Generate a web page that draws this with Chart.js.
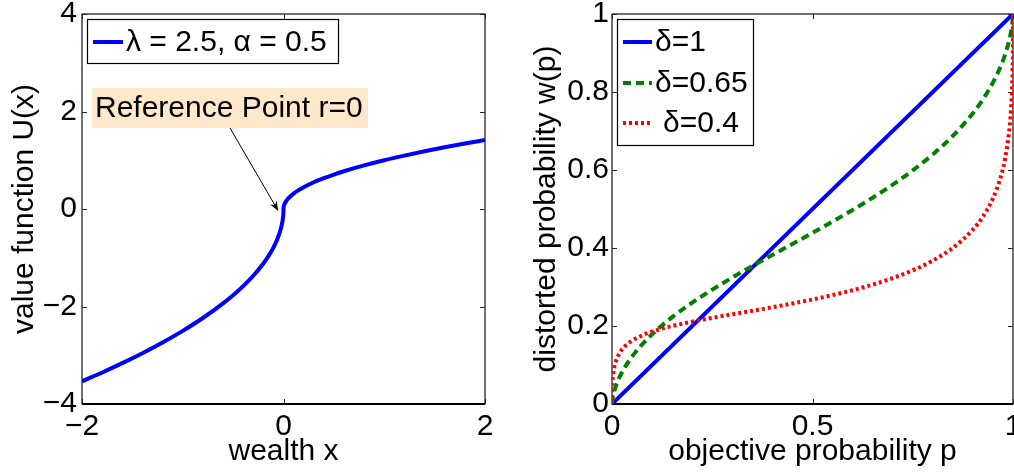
<!DOCTYPE html>
<html>
<head>
<meta charset="utf-8">
<script src="https://cdn.jsdelivr.net/npm/chart.js@4.4.0/dist/chart.umd.min.js"></script>
<style>
  html, body { margin: 0; padding: 0; background: #fff; }
  #wrap { position: relative; width: 1014px; height: 474px; overflow: hidden; }
  canvas { position: absolute; top: 0; }
  #valueChart { left: 0; }
  #weightChart { left: 507px; }
</style>
</head>
<body>
<div id="wrap">
  <canvas id="valueChart" width="507" height="474" style="width:507px;height:474px"></canvas>
  <canvas id="weightChart" width="507" height="474" style="width:507px;height:474px"></canvas>
</div>
<script>
// left panel: value function
const wealthX = [-2, -1.8, -1.6, -1.4, -1.2, -1, -0.8, -0.6, -0.5, -0.4, -0.3, -0.2, -0.15, -0.1, -0.05, -0.02, -0.01, -0.005, -0.001, 0,
                 0.001, 0.005, 0.01, 0.02, 0.05, 0.1, 0.15, 0.2, 0.3, 0.4, 0.5, 0.6, 0.8, 1, 1.2, 1.4, 1.6, 1.8, 2];
const valueU = [-3.536, -3.354, -3.162, -2.958, -2.739, -2.5, -2.236, -1.936, -1.768, -1.581, -1.369, -1.118, -0.968, -0.791, -0.559, -0.354, -0.25, -0.177, -0.079, 0,
                0.032, 0.071, 0.1, 0.141, 0.224, 0.316, 0.387, 0.447, 0.548, 0.632, 0.707, 0.775, 0.894, 1, 1.095, 1.183, 1.265, 1.342, 1.414];
const valueTicksX = [-2, 0, 2];
const valueTicksY = [-4, -2, 0, 2, 4];

// right panel: probability weighting curves
const probP = [0, 0.0001, 0.001, 0.005, 0.01, 0.02, 0.03, 0.05, 0.075, 0.1, 0.15, 0.2, 0.25, 0.3, 0.35, 0.4, 0.45, 0.5,
               0.55, 0.6, 0.65, 0.7, 0.75, 0.8, 0.85, 0.9, 0.925, 0.95, 0.97, 0.98, 0.99, 0.995, 0.999, 0.9999, 1];
const wDelta065 = [0, 0.0025, 0.011, 0.0306, 0.0469, 0.0713, 0.0906, 0.1215, 0.1526, 0.1787, 0.2226, 0.2599, 0.2933, 0.3242, 0.3537, 0.3822, 0.4104, 0.4388,
                   0.4676, 0.4975, 0.5289, 0.5624, 0.599, 0.64, 0.6875, 0.7455, 0.781, 0.8239, 0.8675, 0.895, 0.9304, 0.9543, 0.9833, 0.9961, 1];
const wDelta04 = [0, 0.0236, 0.0542, 0.0909, 0.1107, 0.1323, 0.1455, 0.1623, 0.1759, 0.1857, 0.2, 0.2111, 0.2209, 0.23, 0.2389, 0.2481, 0.2577, 0.268,
                  0.2792, 0.2918, 0.3061, 0.3227, 0.3427, 0.3676, 0.4003, 0.4471, 0.4805, 0.5271, 0.5842, 0.6274, 0.6955, 0.7549, 0.8586, 0.9399, 1];
const probP1 = [0, 1];
const wDelta1 = [0, 1];
const weightTicksX = [0, 0.5, 1];
const weightTicksY = [0, 0.2, 0.4, 0.6, 0.8, 1];

const FONT = "'Liberation Sans', Arial, Helvetica, sans-serif";
Chart.defaults.font.family = FONT;
Chart.defaults.font.size = 30;
Chart.defaults.color = '#000';

const pts = (xs, ys) => xs.map((x, i) => ({ x: x, y: ys[i] }));
const minus = v => (v < 0 ? '\u2212' + Math.abs(v) : String(v));
const round1 = v => String(Math.round(v * 10) / 10);

// box around the axes plus matlab style inward ticks on all four sides
const boxTicks = {
  id: 'boxTicks',
  beforeDatasetsDraw(chart) {
    const { ctx, chartArea: a, scales: { x, y } } = chart;
    ctx.save();
    ctx.strokeStyle = '#262626';
    ctx.lineWidth = 1;
    ctx.beginPath();
    x.ticks.forEach(t => {
      const px = Math.round(x.getPixelForValue(t.value)) + 0.5;
      ctx.moveTo(px, a.bottom); ctx.lineTo(px, a.bottom - 5);
      ctx.moveTo(px, a.top); ctx.lineTo(px, a.top + 5);
    });
    y.ticks.forEach(t => {
      const py = Math.round(y.getPixelForValue(t.value)) + 0.5;
      ctx.moveTo(a.left, py); ctx.lineTo(a.left + 5, py);
      ctx.moveTo(a.right, py); ctx.lineTo(a.right - 5, py);
    });
    ctx.stroke();
    ctx.lineWidth = 1.3;
    ctx.strokeRect(a.left, a.top, a.right - a.left, a.bottom - a.top);
    ctx.strokeStyle = '#000';
    ctx.lineWidth = 2;
    ctx.beginPath();
    ctx.moveTo(a.left, a.bottom); ctx.lineTo(a.right, a.bottom);
    ctx.stroke();
    ctx.restore();
  }
};

// legend box drawn inside the axes
const boxLegend = {
  id: 'boxLegend',
  afterDraw(chart, args, opts) {
    if (!opts || !opts.items) return;
    const ctx = chart.ctx;
    ctx.save();
    ctx.fillStyle = '#fff';
    ctx.fillRect(opts.x, opts.y, opts.w, opts.h);
    ctx.strokeStyle = '#000';
    ctx.lineWidth = 1.2;
    ctx.strokeRect(opts.x + 0.5, opts.y + 0.5, opts.w, opts.h);
    ctx.font = '30px ' + FONT;
    ctx.textBaseline = 'middle';
    ctx.textAlign = 'left';
    opts.items.forEach(it => {
      const ds = chart.data.datasets[it.dataset];
      ctx.strokeStyle = ds.borderColor;
      ctx.lineWidth = ds.borderWidth;
      ctx.setLineDash(ds.borderDash || []);
      ctx.beginPath();
      ctx.moveTo(opts.lineX0, it.y);
      ctx.lineTo(opts.lineX1, it.y);
      ctx.stroke();
      ctx.setLineDash([]);
      ctx.fillStyle = '#000';
      ctx.fillText(ds.label, it.textX, it.y + 1);
    });
    ctx.restore();
  }
};

// "Reference Point" note with arrow to the kink
const refNote = {
  id: 'refNote',
  afterDraw(chart, args, opts) {
    if (!opts || !opts.text) return;
    const { ctx, scales: { x, y } } = chart;
    ctx.save();
    ctx.fillStyle = '#fde8cc';
    ctx.fillRect(92, 88, 276, 40);
    ctx.fillStyle = '#000';
    ctx.font = '30px ' + FONT;
    ctx.textBaseline = 'middle';
    ctx.textAlign = 'left';
    ctx.fillText(opts.text, 95, 109);
    const x0 = 230, y0 = 128;
    const x1 = x.getPixelForValue(opts.tipX), y1 = y.getPixelForValue(opts.tipY);
    ctx.strokeStyle = '#000';
    ctx.lineWidth = 1;
    ctx.beginPath();
    ctx.moveTo(x0, y0); ctx.lineTo(x1, y1);
    ctx.stroke();
    const ang = Math.atan2(y1 - y0, x1 - x0);
    const len = 10, spread = 0.4;
    ctx.fillStyle = '#000';
    ctx.beginPath();
    ctx.moveTo(x1, y1);
    ctx.lineTo(x1 - len * Math.cos(ang - spread), y1 - len * Math.sin(ang - spread));
    ctx.lineTo(x1 - 0.6 * len * Math.cos(ang), y1 - 0.6 * len * Math.sin(ang));
    ctx.lineTo(x1 - len * Math.cos(ang + spread), y1 - len * Math.sin(ang + spread));
    ctx.closePath();
    ctx.fill();
    ctx.restore();
  }
};

function axis(tickVals, fmt, opts) {
  return {
    type: 'linear',
    min: tickVals[0],
    max: tickVals[tickVals.length - 1],
    afterBuildTicks: s => { s.ticks = tickVals.map(v => ({ value: v })); },
    ticks: { callback: fmt, padding: opts.tickPad, font: { size: 30, lineHeight: 1.2 } },
    grid: { display: false, drawTicks: false },
    border: { display: false },
    title: { display: true, text: opts.title, font: { size: 30, lineHeight: 1.2 }, padding: opts.titlePad },
    afterFit: s => {
      if (opts.width) s.width = opts.width;
      if (opts.height) s.height = opts.height;
      s.paddingTop = 0; s.paddingBottom = 0; s.paddingLeft = 0; s.paddingRight = 0;
    }
  };
}

const baseOpts = {
  responsive: false,
  animation: false,
  events: [],
  plugins: { legend: { display: false }, tooltip: { enabled: false } },
  elements: { point: { radius: 0 }, line: { cubicInterpolationMode: 'monotone' } }
};

new Chart(document.getElementById('valueChart'), {
  type: 'line',
  data: {
    datasets: [{
      label: '\u03bb = 2.5, \u03b1 = 0.5',
      data: pts(wealthX, valueU),
      borderColor: '#0000ff',
      borderWidth: 4,
      fill: false
    }]
  },
  options: Object.assign({}, baseOpts, {
    layout: { padding: { top: 14, right: 22, bottom: 0, left: 0 } },
    scales: {
      x: axis(valueTicksX, minus, { title: 'wealth x', tickPad: 5, titlePad: { top: 0, bottom: 4 }, height: 70 }),
      y: axis(valueTicksY, minus, { title: 'value function U(x)', tickPad: 5, titlePad: { top: 7, bottom: 0 }, width: 82 })
    },
    plugins: {
      legend: { display: false },
      tooltip: { enabled: false },
      boxLegend: {
        x: 87, y: 19, w: 251, h: 44, lineX0: 93, lineX1: 123,
        items: [{ dataset: 0, y: 42, textX: 126 }]
      },
      refNote: { text: 'Reference Point r=0', tipX: -0.055, tipY: -0.03 }
    }
  }),
  plugins: [boxTicks, boxLegend, refNote]
});

new Chart(document.getElementById('weightChart'), {
  type: 'line',
  data: {
    datasets: [{
      label: '\u03b4=1',
      data: pts(probP1, wDelta1),
      borderColor: '#0000ff',
      borderWidth: 4,
      cubicInterpolationMode: 'default',
      tension: 0,
      order: 3
    }, {
      label: '\u03b4=0.65',
      data: pts(probP, wDelta065),
      borderColor: '#008000',
      borderWidth: 4,
      borderDash: [8, 5],
      order: 2
    }, {
      label: '\u03b4=0.4',
      data: pts(probP, wDelta04),
      borderColor: '#ff0000',
      borderWidth: 4,
      borderDash: [3, 3],
      order: 1
    }]
  },
  options: Object.assign({}, baseOpts, {
    layout: { padding: { top: 14, right: 1, bottom: 0, left: 0 } },
    scales: {
      x: axis(weightTicksX, round1, { title: 'objective probability p', tickPad: 5, titlePad: { top: 0, bottom: 4 }, height: 70 }),
      y: axis(weightTicksY, round1, { title: 'distorted probability w(p)', tickPad: 3, titlePad: { top: 22, bottom: 0 }, width: 105 })
    },
    plugins: {
      legend: { display: false },
      tooltip: { enabled: false },
      boxLegend: {
        x: 110, y: 19, w: 136, h: 126, lineX0: 116, lineX1: 145,
        items: [
          { dataset: 0, y: 42, textX: 148 },
          { dataset: 1, y: 83, textX: 148 },
          { dataset: 2, y: 123, textX: 156 }
        ]
      }
    }
  }),
  plugins: [boxTicks, boxLegend]
});
</script>
</body>
</html>
